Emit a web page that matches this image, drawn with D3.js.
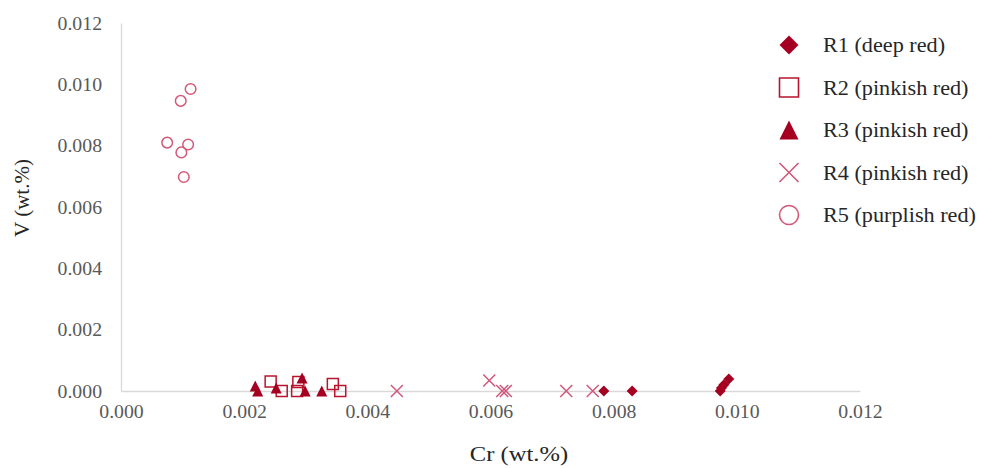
<!DOCTYPE html>
<html>
<head>
<meta charset="utf-8">
<script src="https://cdn.jsdelivr.net/npm/d3@7"></script>
<style>
  html, body { margin: 0; padding: 0; background: #ffffff; }
  svg { display: block; }
  svg text { font-family: "Liberation Serif", "Times New Roman", Tinos, "DejaVu Serif", serif; }
</style>
</head>
<body>
<svg id="chart" width="982" height="468"></svg>
<script>
// Sample groups and their measured Cr / V contents (wt.%)
const seriesNames = ["R1 (deep red)", "R2 (pinkish red)", "R3 (pinkish red)", "R4 (pinkish red)", "R5 (purplish red)"];

const r1Cr = [0.00784, 0.00830, 0.00973, 0.00975, 0.00979, 0.00987];
const r1V  = [0.00000, 0.00000, 0.00000, 0.00010, 0.00020, 0.00039];

const r2Cr = [0.00243, 0.00261, 0.00288, 0.00286, 0.00344, 0.00356];
const r2V  = [0.00031, 0.00000, 0.00029, 0.00000, 0.00023, 0.00000];

const r3Cr = [0.00218, 0.00222, 0.00252, 0.00294, 0.00299, 0.00326];
const r3V  = [0.00016, 0.00000, 0.00010, 0.00042, 0.00000, 0.00000];

const r4Cr = [0.00448, 0.00598, 0.00619, 0.00625, 0.00723, 0.00766];
const r4V  = [0.00000, 0.00034, 0.00000, 0.00000, 0.00000, 0.00000];

const r5Cr = [0.00113, 0.00097, 0.00075, 0.00109, 0.00098, 0.00102];
const r5V  = [0.00985, 0.00946, 0.00810, 0.00804, 0.00778, 0.00698];

const xTicks = [0, 0.002, 0.004, 0.006, 0.008, 0.010, 0.012];
const yTicks = [0, 0.002, 0.004, 0.006, 0.008, 0.010, 0.012];

const series = [
  { name: seriesNames[0], cr: r1Cr, v: r1V, shape: "diamond",  fill: "#a50021", stroke: "none" },
  { name: seriesNames[1], cr: r2Cr, v: r2V, shape: "square",   fill: "none",    stroke: "#b8142f" },
  { name: seriesNames[2], cr: r3Cr, v: r3V, shape: "triangle", fill: "#a50021", stroke: "none" },
  { name: seriesNames[3], cr: r4Cr, v: r4V, shape: "cross",    fill: "none",    stroke: "#d0587a" },
  { name: seriesNames[4], cr: r5Cr, v: r5V, shape: "circle",   fill: "none",    stroke: "#d25a78" }
];

const FONT = "'Liberation Serif', 'Times New Roman', Tinos, 'DejaVu Serif', serif";

const svg = d3.select("#chart");
const plot = { left: 121, right: 860, top: 23, bottom: 391 };

const x = d3.scaleLinear().domain([0, 0.012]).range([plot.left, plot.right]);
const y = d3.scaleLinear().domain([0, 0.012]).range([plot.bottom, plot.top]);

// Marker outlines, r = half the marker extent
function markerPath(shape, r) {
  const p = d3.path();
  if (shape === "diamond") {
    p.moveTo(0, -r); p.lineTo(r, 0); p.lineTo(0, r); p.lineTo(-r, 0); p.closePath();
  } else if (shape === "square") {
    p.rect(-r, -r, 2 * r, 2 * r);
  } else if (shape === "triangle") {
    p.moveTo(0, -r); p.lineTo(r, r); p.lineTo(-r, r); p.closePath();
  } else if (shape === "cross") {
    p.moveTo(-r, -r); p.lineTo(r, r); p.moveTo(r, -r); p.lineTo(-r, r);
  } else if (shape === "circle") {
    p.moveTo(r, 0); p.arc(0, 0, r, 0, 2 * Math.PI);
  }
  return p.toString();
}

// Stretch horizontal labels slightly wider than the font's natural width
function widen(k) {
  return sel => sel.each(function () {
    const w = this.getComputedTextLength();
    d3.select(this).attr("textLength", w * k).attr("lengthAdjust", "spacingAndGlyphs");
  });
}

// Axes
const xAxis = d3.axisBottom(x).tickValues(xTicks).tickFormat(d3.format(".3f")).tickSize(0).tickPadding(14);
const yAxis = d3.axisLeft(y).tickValues(yTicks).tickFormat(d3.format(".3f")).tickSize(0).tickPadding(19);

const gx = svg.append("g").attr("transform", `translate(0,${plot.bottom})`).call(xAxis);
const gy = svg.append("g").attr("transform", `translate(${plot.left},0)`).call(yAxis);

[gx, gy].forEach(g => {
  g.attr("font-family", FONT);
  g.select(".domain").attr("stroke", "#d9d9d9").attr("stroke-width", 1.3);
  g.selectAll(".tick text")
    .attr("fill", "#595959")
    .attr("font-family", FONT)
    .attr("font-size", 19)
    .call(widen(1.04));
});

// Axis titles
svg.append("text")
  .attr("x", 519).attr("y", 461)
  .attr("text-anchor", "middle")
  .attr("fill", "#262626")
  .attr("font-family", FONT)
  .attr("font-size", 21)
  .text("Cr (wt.%)")
  .call(widen(1.17));

svg.append("text")
  .attr("transform", "translate(29,198) rotate(-90)")
  .attr("text-anchor", "middle")
  .attr("fill", "#262626")
  .attr("font-family", FONT)
  .attr("font-size", 21)
  .text("V (wt.%)");

// Data points
series.forEach(s => {
  const pts = s.cr.map((c, i) => [c, s.v[i]]);
  svg.append("g")
    .selectAll("path")
    .data(pts)
    .join("path")
    .attr("transform", d => `translate(${x(d[0])},${y(d[1])})`)
    .attr("d", markerPath(s.shape, s.shape === "circle" ? 5.3 : (s.shape === "cross" ? 6 : 5.5)))
    .attr("fill", s.fill)
    .attr("stroke", s.stroke)
    .attr("stroke-width", 1.5);
});

// Legend
const legend = svg.append("g");
series.forEach((s, i) => {
  const cy = 45 + i * 42.5;
  legend.append("path")
    .attr("transform", `translate(789,${cy})`)
    .attr("d", markerPath(s.shape, 9.5))
    .attr("fill", s.fill)
    .attr("stroke", s.stroke)
    .attr("stroke-width", 1.6);
  legend.append("text")
    .attr("x", 823).attr("y", cy)
    .attr("dy", "0.35em")
    .attr("fill", "#262626")
    .attr("font-family", FONT)
    .attr("font-size", 20)
    .text(s.name)
    .call(widen(1.11));
});
</script>
</body>
</html>
